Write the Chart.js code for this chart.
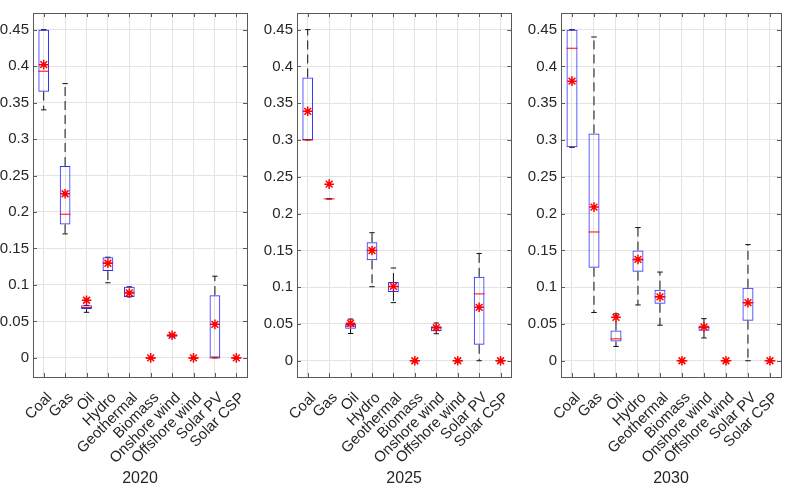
<!DOCTYPE html>
<html>
<head>
<meta charset="utf-8">
<script src="https://cdn.jsdelivr.net/npm/chart.js@4/dist/chart.umd.min.js"></script>
<style>
  html, body { margin: 0; padding: 0; background: #ffffff; }
  #wrap { position: relative; width: 795px; height: 490px; overflow: hidden; background: #fff; }
  .panel { position: absolute; top: 0; height: 490px; }
</style>
</head>
<body>
<div id="wrap">
  <div class="panel" style="left:0px;width:262px"><canvas id="c1"></canvas></div>
  <div class="panel" style="left:262px;width:264px"><canvas id="c2"></canvas></div>
  <div class="panel" style="left:526px;width:269px"><canvas id="c3"></canvas></div>
</div>
<script>
// ---------------- DATA ----------------
const categories = ['Coal', 'Gas', 'Oil', 'Hydro', 'Geothermal', 'Biomass', 'Onshore wind', 'Offshore wind', 'Solar PV', 'Solar CSP'];
const years = ['2020', '2025', '2030'];
const yTickValues = [0, 0.05, 0.1, 0.15, 0.2, 0.25, 0.3, 0.35, 0.4, 0.45];

// 2020
const q1_2020   = [0.365, 0.183, 0.067, 0.119, 0.0836, 0, 0.029, 0, 0,     0];
const q3_2020   = [0.45,  0.263, 0.072, 0.138, 0.0975, 0, 0.032, 0, 0.086, 0];
const med_2020  = [0.393, 0.197, 0.069, 0.130, 0.090,  0, 0.031, 0, 0,     0];
const mean_2020 = [0.402, 0.225, 0.079, 0.1297,0.089,  0, 0.031, 0, 0.046, 0];
const lo_2020   = [0.34,  0.170, 0.0625,0.103, 0.0836, 0, 0.029, 0, 0,     0];
const hi_2020   = [0.45,  0.376, 0.072, 0.138, 0.0975, 0, 0.032, 0, 0.112, 0];

// 2025
const q1_2025   = [0.300, 0.22, 0.0434, 0.1365, 0.0935, 0, 0.0403, 0, 0.0217, 0];
const q3_2025   = [0.385, 0.22, 0.050,  0.161,  0.107,  0, 0.047,  0, 0.114,  0];
const med_2025  = [0.300, 0.22, 0.047,  0.150,  0.101,  0, 0.045,  0, 0.0908, 0];
const mean_2025 = [0.339, 0.24, 0.051,  0.1498, 0.101,  0, 0.045,  0, 0.0726, 0];
const lo_2025   = [0.300, 0.22, 0.037,  0.1006, 0.079,  0, 0.0367, 0, 0,      0];
const hi_2025   = [0.45,  0.22, 0.0566, 0.174,  0.126,  0, 0.0513, 0, 0.1458, 0];

// 2030
const q1_2030   = [0.290,  0.1263, 0.026,  0.121,  0.0775, 0, 0.0407, 0, 0.0545, 0];
const q3_2030   = [0.45,   0.309,  0.0412, 0.1498, 0.0966, 0, 0.0479, 0, 0.0992, 0];
const med_2030  = [0.4247, 0.175,  0.0297, 0.137,  0.0868, 0, 0.045,  0, 0.0789, 0];
const mean_2030 = [0.380,  0.2088, 0.059,  0.1378, 0.0868, 0, 0.046,  0, 0.0789, 0];
const lo_2030   = [0.290,  0.0656, 0.0194, 0.0758, 0.0483, 0, 0.031,  0, 0,      0];
const hi_2030   = [0.45,   0.440,  0.0638, 0.181,  0.1205, 0, 0.0572, 0, 0.1578, 0];

// y-axis limits per panel
const yMin = [-0.0262, -0.0221, -0.0221];
const yMax = [0.4728, 0.4726, 0.4726];

// ---------------- STYLE ----------------
const FONT = "'Liberation Sans', Arial, Helvetica, sans-serif";
const TEXT = '#262626';
const AXIS = '#5a5a5a';
const GRID = '#e3e3e3';
const BLUE = '#2a2aff';
const RED = '#ff0000';

const boxPlugin = {
  id: 'axesBox',
  beforeDatasetsDraw(chart) {
    const { ctx, chartArea: a, scales } = chart;
    ctx.save();
    ctx.strokeStyle = AXIS;
    ctx.lineWidth = 1;
    const tk = 4;
    ctx.beginPath();
    scales.x.ticks.forEach((t, i) => {
      const px = Math.round(scales.x.getPixelForTick(i)) + 0.5;
      ctx.moveTo(px, a.bottom); ctx.lineTo(px, a.bottom - tk);
      ctx.moveTo(px, a.top); ctx.lineTo(px, a.top + tk);
    });
    scales.y.ticks.forEach((t) => {
      const py = Math.round(scales.y.getPixelForValue(t.value)) + 0.5;
      ctx.moveTo(a.left, py); ctx.lineTo(a.left + tk, py);
      ctx.moveTo(a.right, py); ctx.lineTo(a.right - tk, py);
    });
    ctx.stroke();
    ctx.restore();
  },
  afterDraw(chart) {
    const { ctx, chartArea: a } = chart;
    ctx.save();
    ctx.strokeStyle = AXIS;
    ctx.lineWidth = 1;
    ctx.strokeRect(Math.round(a.left) + 0.5, Math.round(a.top) + 0.5,
                   Math.round(a.right - a.left), Math.round(a.bottom - a.top));
    ctx.restore();
  }
};

function makePanel(canvasId, idx, q1, q3, med, mean, lo, hi, yAxisWidth, padRight) {
  const whiskers = [];
  const caps = [];
  categories.forEach((c, i) => {
    whiskers.push({ x: c, y: q3[i] }, { x: c, y: hi[i] }, { x: c, y: null });
    whiskers.push({ x: c, y: q1[i] }, { x: c, y: lo[i] }, { x: c, y: null });
    caps.push({ x: c, y: lo[i] }, { x: c, y: hi[i] });
  });
  const boxHalf = (ctx) => ctx.chart.scales.x.width / categories.length * 0.25;

  new Chart(document.getElementById(canvasId), {
    type: 'bar',
    data: {
      labels: categories,
      datasets: [
        {
          type: 'line', data: whiskers, borderColor: '#111111', borderWidth: 1,
          borderDash: [9, 5], pointRadius: 0, spanGaps: false, order: 4
        },
        {
          type: 'line', data: caps, showLine: false, pointStyle: 'line',
          pointRadius: (ctx) => boxHalf(ctx) * 0.5, pointBorderColor: '#111111',
          pointBorderWidth: 1, order: 3
        },
        {
          type: 'bar', data: categories.map((c, i) => [q1[i], q3[i]]),
          backgroundColor: 'rgba(0,0,0,0)', borderColor: BLUE, borderWidth: 1,
          borderSkipped: false, barPercentage: 0.5, categoryPercentage: 1, order: 2
        },
        {
          type: 'line', data: med, showLine: false, pointStyle: 'line',
          pointRadius: boxHalf, pointBorderColor: RED, pointBorderWidth: 1, order: 1
        },
        {
          type: 'line', data: mean, showLine: false, pointStyle: 'star',
          pointRadius: 4.8, pointBorderColor: RED, pointBorderWidth: 1.5, order: 0
        }
      ]
    },
    options: {
      responsive: true,
      maintainAspectRatio: false,
      animation: false,
      events: [],
      layout: { padding: { top: 5, right: padRight, bottom: 0, left: 0 } },
      plugins: { legend: { display: false }, tooltip: { enabled: false } },
      scales: {
        x: {
          type: 'category',
          offset: true,
          grid: { offset: false, color: GRID, drawTicks: false, lineWidth: 1 },
          border: { display: false },
          ticks: {
            autoSkip: false, maxRotation: 45, minRotation: 45, padding: 12, labelOffset: 6,
            color: TEXT, font: { family: FONT, size: 15 }
          },
          title: {
            display: true, text: years[idx], color: TEXT,
            font: { family: FONT, size: 16 }, padding: { top: 0, bottom: 2 }
          },
          afterFit(scale) { scale.height = 113; }
        },
        y: {
          type: 'linear',
          min: yMin[idx], max: yMax[idx],
          grid: { color: GRID, drawTicks: false, lineWidth: 1 },
          border: { display: false },
          afterBuildTicks(scale) { scale.ticks = yTickValues.map(v => ({ value: v })); },
          ticks: {
            padding: 4, color: TEXT, font: { family: FONT, size: 15 },
            callback: (v) => String(+Number(v).toFixed(2))
          },
          afterFit(scale) { scale.width = yAxisWidth; }
        }
      }
    },
    plugins: [boxPlugin]
  });
}

makePanel('c1', 0, q1_2020, q3_2020, med_2020, mean_2020, lo_2020, hi_2020, 33, 15);
makePanel('c2', 1, q1_2025, q3_2025, med_2025, mean_2025, lo_2025, hi_2025, 35, 14);
makePanel('c3', 2, q1_2030, q3_2030, med_2030, mean_2030, lo_2030, hi_2030, 35, 6);
</script>
</body>
</html>
